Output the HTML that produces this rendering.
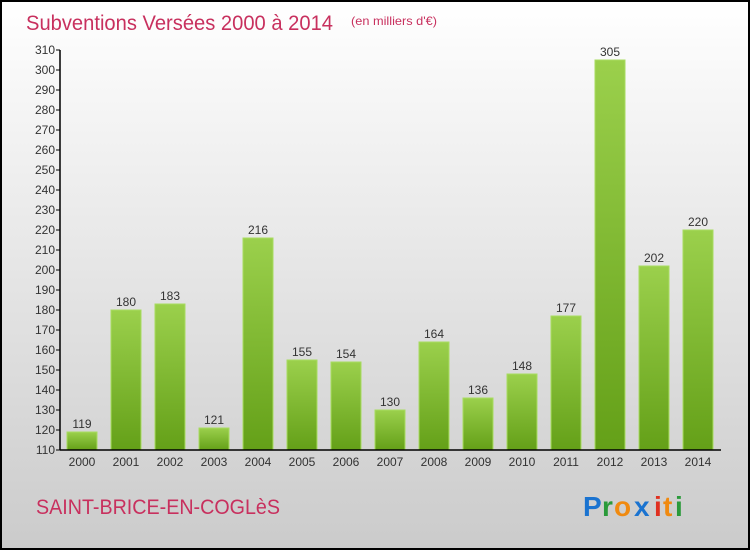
<!DOCTYPE html>
<html><head><meta charset="utf-8"><style>
body{margin:0;}
#c{position:relative;width:750px;height:550px;}
</style></head><body>
<div id="c">
<svg id="s" width="750" height="550" xmlns="http://www.w3.org/2000/svg" font-family="'Liberation Sans', sans-serif">
<defs>
<linearGradient id="bg" x1="0" y1="0" x2="0" y2="1"><stop offset="0" stop-color="#ffffff"/><stop offset="1" stop-color="#cbcbcb"/></linearGradient>
<linearGradient id="bar" x1="0" y1="0" x2="0" y2="1"><stop offset="0" stop-color="#9bd04c"/><stop offset="1" stop-color="#64a018"/></linearGradient>
</defs>
<rect x="1" y="1" width="748" height="548" fill="url(#bg)" stroke="#000" stroke-width="2"/>
<text x="26" y="30" font-size="21" fill="#c8305e" textLength="307" lengthAdjust="spacingAndGlyphs">Subventions Versées 2000 à 2014</text>
<text x="351" y="25" font-size="12" fill="#c8305e" textLength="86" lengthAdjust="spacingAndGlyphs">(en milliers d'€)</text>
<text x="36" y="514" font-size="21" fill="#c8305e" textLength="244" lengthAdjust="spacingAndGlyphs">SAINT-BRICE-EN-COGLèS</text>
<g font-size="28" font-weight="bold">
<text x="583" y="516" fill="#1a73d0">P</text><text x="602" y="516" fill="#2a9a3a">r</text><text x="614" y="516" fill="#f08a10">o</text><text x="634" y="516" fill="#1a73d0">x</text><text x="654" y="516" fill="#e03020">i</text><text x="663" y="516" fill="#f08a10">t</text><text x="675" y="516" fill="#2a9a3a">i</text>
</g>
<g id="plot"></g>
</svg>
</div>
<script>
const categories=["2000","2001","2002","2003","2004","2005","2006","2007","2008","2009","2010","2011","2012","2013","2014"];
const values=[119,180,183,121,216,155,154,130,164,136,148,177,305,202,220];
const yTicks=[110,120,130,140,150,160,170,180,190,200,210,220,230,240,250,260,270,280,290,300,310];
const yMin=110,yMax=310,plotTop=50,plotBottom=450,axisX=60,x0=67,step=44,bw=30;
const yScale=v=>plotBottom-(v-yMin)/(yMax-yMin)*(plotBottom-plotTop);
const xb=i=>x0+i*step;
const g=document.getElementById('plot');
const NS="http://www.w3.org/2000/svg";
function mk(t,a){const e=document.createElementNS(NS,t);for(const k in a)e.setAttribute(k,a[k]);g.appendChild(e);return e;}
values.forEach((v,i)=>{
 const r=mk('rect',{x:xb(i),y:yScale(v),width:bw,height:plotBottom-yScale(v),fill:'url(#bar)',stroke:'#a8dc60','stroke-width':1});
 
 
 const t=mk('text',{x:xb(i)+bw/2,y:yScale(v)-4,'text-anchor':'middle','font-size':12,fill:'#333'});
 t.textContent=v;
 
 
 const c=mk('text',{x:xb(i)+bw/2,y:plotBottom+16,'text-anchor':'middle','font-size':12,fill:'#333'});
 c.textContent=categories[i];
 
 
});
yTicks.forEach(v=>{
 const l=mk('line',{x1:axisX-4,x2:axisX,y1:yScale(v),y2:yScale(v),stroke:'#000'});
 
 
 const t=mk('text',{x:axisX-5,y:yScale(v)+4,'text-anchor':'end','font-size':12,fill:'#333'});
 t.textContent=v;
 
 
});
const ya=mk('line',{x1:axisX,x2:axisX,y1:plotTop,y2:plotBottom,stroke:'#000','stroke-width':1.5});


const xa=mk('line',{x1:axisX,x2:721,y1:plotBottom,y2:plotBottom,stroke:'#000','stroke-width':1.5});


</script>
</body></html>
